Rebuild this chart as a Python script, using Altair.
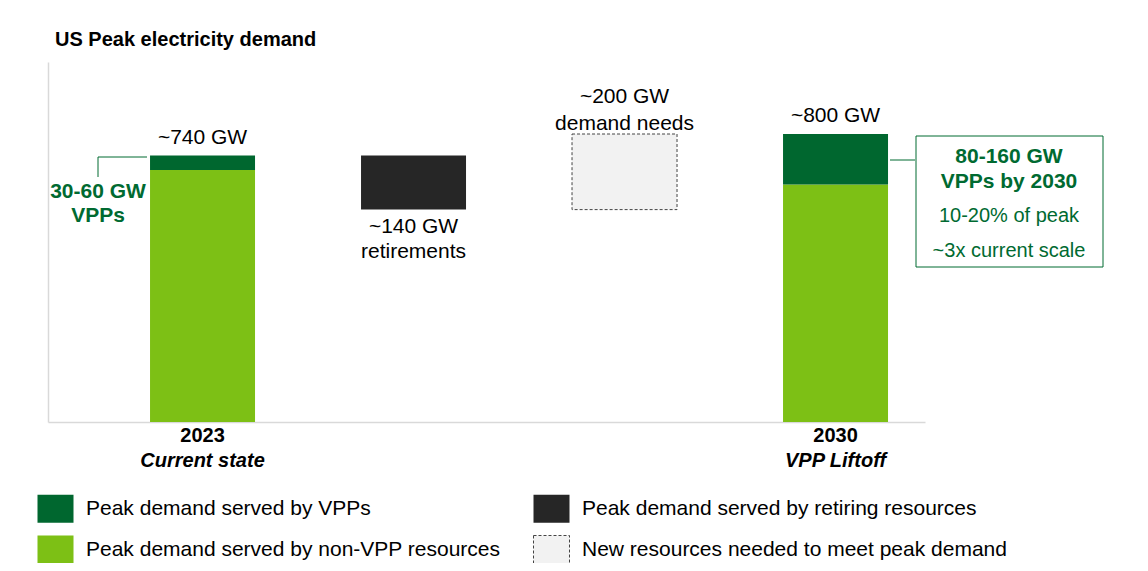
import altair as alt
import pandas as pd

FONT = "Liberation Sans"

# x categories (bar slots)
cats = ["2023", "Retirements", "New needs", "2030"]

# bar segments
seg_cat = ["2023", "2023", "Retirements", "New needs", "2030", "2030"]
seg_series = [
    "Peak demand served by non-VPP resources",
    "Peak demand served by VPPs",
    "Peak demand served by retiring resources",
    "New resources needed to meet peak demand",
    "Peak demand served by non-VPP resources",
    "Peak demand served by VPPs",
]
seg_lo = [0, 700, 590, 590, 0, 660]
seg_hi = [700, 740, 740, 800, 660, 800]

legend_order = [
    "Peak demand served by VPPs",
    "Peak demand served by retiring resources",
    "Peak demand served by non-VPP resources",
    "New resources needed to meet peak demand",
]
legend_colors = ["#00672f", "#262626", "#7dc015", "#f2f2f2"]
legend_strokes = ["transparent", "transparent", "transparent", "#444444"]
legend_dashes = [[1, 0], [1, 0], [1, 0], [3, 2]]

# labels above total bars
total_cat = ["2023", "2030"]
total_val = [740, 800]
total_text = ["~740 GW", "~800 GW"]

# labels of the floating bars
ret_lines = ["~140 GW", "retirements"]
new_lines = ["~200 GW", "demand needs"]

# x axis labels
x_year = ["2023", "2030"]
x_sub = ["Current state", "VPP Liftoff"]

# callouts
left_call = ["30-60 GW", "VPPs"]
right_bold = ["80-160 GW", "VPPs by 2030"]
right_norm = ["10-20% of peak", "~3x current scale"]

title_text = "US Peak electricity demand"

GREEN_TXT = "#006a31"
AXIS_GREY = "#d9d9d9"

seg_df = pd.DataFrame({"cat": seg_cat, "series": seg_series, "lo": seg_lo, "hi": seg_hi})
tot_df = pd.DataFrame({"cat": total_cat, "val": total_val, "text": total_text})
xl_df = pd.DataFrame({"cat": x_year, "year": x_year, "sub": x_sub})

xscale = alt.Scale(domain=cats, paddingInner=0.5024, paddingOuter=0.3294, align=0.734)
yscale = alt.Scale(domain=[0, 1000], nice=False)


def X():
    return alt.X("cat:N", scale=xscale, sort=cats,
                 axis=alt.Axis(labels=False, ticks=False, title=None, grid=False,
                               domainColor=AXIS_GREY, domainWidth=1.5))


def Y(field):
    return alt.Y(field, scale=yscale,
                 axis=alt.Axis(labels=False, ticks=False, title=None, grid=False,
                               domainColor=AXIS_GREY, domainWidth=1.5))


def LEG():
    return alt.Legend(
        title=None, orient="none", legendX=-7, legendY=432, columns=2,
        direction="horizontal",
        symbolType="M-1.2857,-1H1.2857V1H-1.2857Z", symbolSize=784,
        symbolStrokeWidth=1, labelFont=FONT, labelFontSize=21, labelColor="#000",
        labelLimit=700, labelOffset=16, rowPadding=8, columnPadding=30, padding=0,
    )


bars = alt.Chart(seg_df).mark_bar(strokeWidth=1).encode(
    x=X(),
    y=Y("lo:Q"),
    y2="hi:Q",
    color=alt.Color("series:N", scale=alt.Scale(domain=legend_order, range=legend_colors), legend=LEG()),
    stroke=alt.Stroke("series:N", scale=alt.Scale(domain=legend_order, range=legend_strokes), legend=LEG()),
    strokeDash=alt.StrokeDash("series:N", scale=alt.Scale(domain=legend_order, range=legend_dashes), legend=LEG()),
)

totals = alt.Chart(tot_df).mark_text(
    font=FONT, fontSize=21, color="#000", baseline="alphabetic", dy=-12
).encode(x=X(), y=Y("val:Q"), text="text:N")

ret_df = pd.DataFrame({"cat": ["Retirements"], "val": [590], "l1": [ret_lines[0]], "l2": [ret_lines[1]]})
new_df = pd.DataFrame({"cat": ["New needs"], "val": [800], "l1": [new_lines[0]], "l2": [new_lines[1]]})

ret1 = alt.Chart(ret_df).mark_text(font=FONT, fontSize=21, baseline="alphabetic", dy=23).encode(
    x=X(), y=Y("val:Q"), text="l1:N")
ret2 = alt.Chart(ret_df).mark_text(font=FONT, fontSize=21, baseline="alphabetic", dy=48).encode(
    x=X(), y=Y("val:Q"), text="l2:N")
new1 = alt.Chart(new_df).mark_text(font=FONT, fontSize=21, baseline="alphabetic", dy=-31).encode(
    x=X(), y=Y("val:Q"), text="l1:N")
new2 = alt.Chart(new_df).mark_text(font=FONT, fontSize=21, baseline="alphabetic", dy=-4).encode(
    x=X(), y=Y("val:Q"), text="l2:N")

xl1 = alt.Chart(xl_df).mark_text(font=FONT, fontSize=20, fontWeight="bold", baseline="alphabetic").encode(
    x=X(), y=alt.value(380), text="year:N")
xl2 = alt.Chart(xl_df).mark_text(font=FONT, fontSize=20, fontWeight="bold", fontStyle="italic",
                                 baseline="alphabetic").encode(
    x=X(), y=alt.value(405), text="sub:N")

# left callout
lc_df = pd.DataFrame({"t": left_call})
lc1 = alt.Chart(lc_df).transform_filter(alt.datum.t == left_call[0]).mark_text(
    font=FONT, fontSize=21, fontWeight="bold", color=GREEN_TXT, baseline="alphabetic"
).encode(x=alt.value(50), y=alt.value(136), text="t:N")
lc2 = alt.Chart(lc_df).transform_filter(alt.datum.t == left_call[1]).mark_text(
    font=FONT, fontSize=21, fontWeight="bold", color=GREEN_TXT, baseline="alphabetic"
).encode(x=alt.value(50), y=alt.value(160), text="t:N")
lc_v = alt.Chart(lc_df).transform_filter(alt.datum.t == left_call[0]).mark_rule(
    color=GREEN_TXT, strokeWidth=1
).encode(x=alt.value(50), y=alt.value(95), y2=alt.value(115))
lc_h = alt.Chart(lc_df).transform_filter(alt.datum.t == left_call[0]).mark_rule(
    color=GREEN_TXT, strokeWidth=1
).encode(x=alt.value(50), x2=alt.value(99), y=alt.value(95))

# right callout box
rc_df = pd.DataFrame({"t": right_bold + right_norm})
box = alt.Chart(rc_df).transform_filter(alt.datum.t == right_bold[0]).mark_rect(
    fill="white", stroke=GREEN_TXT, strokeWidth=1
).encode(x=alt.value(868), x2=alt.value(1055), y=alt.value(74), y2=alt.value(205))
rc_line = alt.Chart(rc_df).transform_filter(alt.datum.t == right_bold[0]).mark_rule(
    color=GREEN_TXT, strokeWidth=1
).encode(x=alt.value(842), x2=alt.value(867), y=alt.value(98))
rc_layers = []
for txt, ypx, bold, size in [(right_bold[0], 101, True, 21), (right_bold[1], 126, True, 21),
                             (right_norm[0], 160, False, 20), (right_norm[1], 195, False, 20)]:
    rc_layers.append(
        alt.Chart(rc_df).transform_filter(alt.datum.t == txt).mark_text(
            font=FONT, fontSize=size, fontWeight="bold" if bold else "normal",
            color=GREEN_TXT, baseline="alphabetic"
        ).encode(x=alt.value(961), y=alt.value(ypx), text="t:N")
    )

title_df = pd.DataFrame({"t": [title_text]})
title = alt.Chart(title_df).mark_text(
    font=FONT, fontSize=20, fontWeight="bold", align="left", baseline="alphabetic", color="#000"
).encode(x=alt.value(7), y=alt.value(-16), text="t:N")

chart = alt.layer(
    bars, totals, ret1, ret2, new1, new2, xl1, xl2,
    lc_v, lc_h, lc1, lc2, box, rc_line, *rc_layers, title
).properties(
    width=877, height=360,
    autosize=alt.AutoSizeParams(type="none"),
    padding={"left": 40, "top": 54, "right": 207, "bottom": 141},
).configure(background="white").configure_view(stroke=None)

chart.save("out.html", embed_options={"renderer": "svg", "actions": False})
